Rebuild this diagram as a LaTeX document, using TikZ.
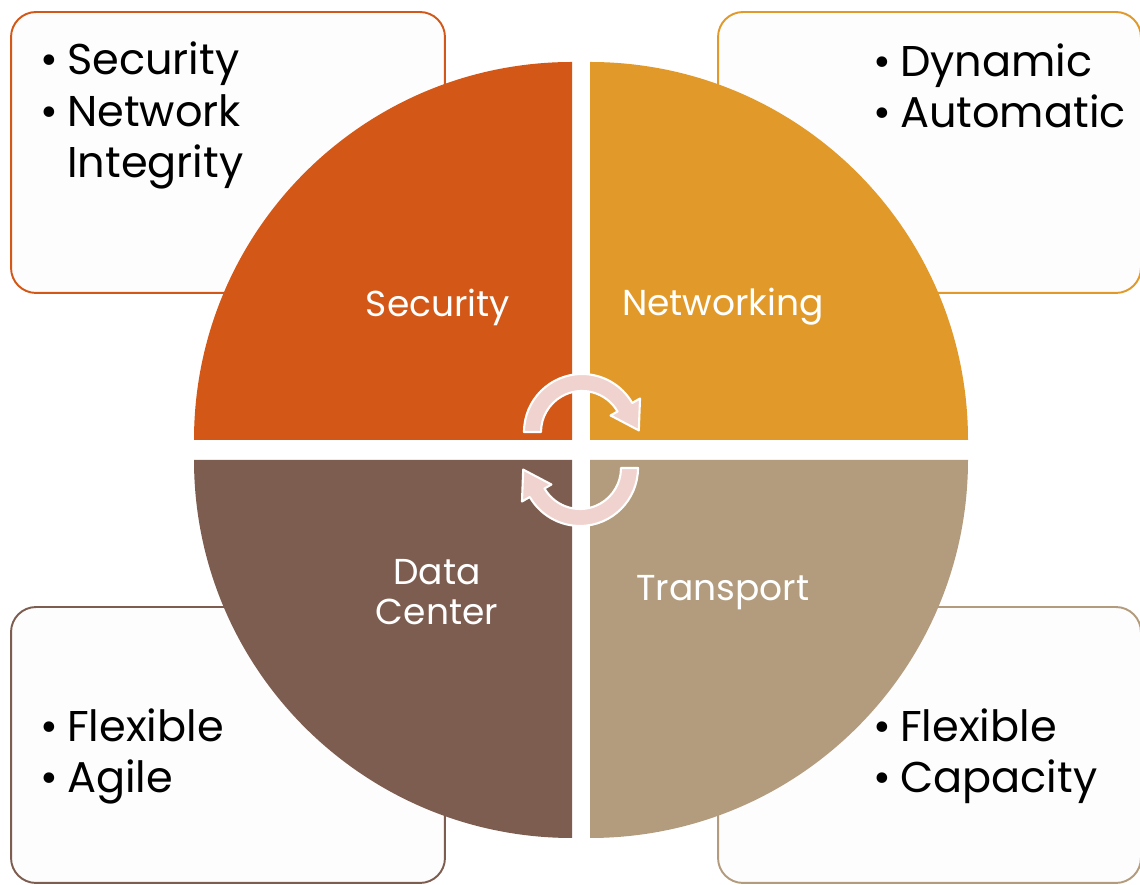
\documentclass[tikz,border=0pt]{standalone}
\usepackage{fontspec}
\setmainfont{Poppins}
\usetikzlibrary{calc,positioning,backgrounds}
\definecolor{secOrange}{HTML}{D35716}
\definecolor{netGold}{HTML}{E19A29}
\definecolor{dcBrown}{HTML}{7D5D50}
\definecolor{trTan}{HTML}{B29C7D}
\definecolor{cycPink}{HTML}{F0D3CE}
\definecolor{boxFill}{HTML}{FDFDFD}
\begin{document}
\begin{tikzpicture}[x=0.02cm,y=0.02cm,every path/.style={line join=round}]
  \tikzstyle{note} = [draw,fill=boxFill,line width=1.1pt,rounded corners=0.5cm,minimum height=5.62cm];
  \tikzstyle{bul} = [anchor=base west,align=left,inner sep=0pt,font=\fontsize{24.5}{29.5}\selectfont];
  \tikzstyle{qlabel} = [text=white,align=center,inner sep=0pt,font=\fontsize{20.5}{22.7}\selectfont];
  \tikzstyle{cycarrow} = [fill=cycPink,draw=white,line width=1.2pt];
  \tikzset{cycle arrow/.pic={
    \filldraw[cycarrow] (180:58) arc[start angle=180,end angle=30,radius=58] -- (30:67)
      -- ($(30:50)+(-60:27)$) -- (30:33) -- (30:41) arc[start angle=30,end angle=180,radius=41] -- cycle;
  }};
  \newcommand{\itm}[1]{\makebox[15.3pt][l]{\textbullet}#1}
  \useasboundingbox[fill=white] (0,0) rectangle (1140,885);
  % side boxes
  \node[note,draw=secOrange,minimum width=8.68cm] (secbox) at (228,732.5) {};
  \node[note,draw=netGold,minimum width=8.46cm] (netbox) at (929.5,732.5) {};
  \node[note,draw=dcBrown,minimum width=8.68cm,minimum height=5.52cm] (dcbox) at (228,140) {};
  \node[note,draw=trTan,minimum width=8.46cm,minimum height=5.52cm] (trbox) at (929.5,140) {};
  % quadrants
  \fill[secOrange] (572,445) -- (194,445) arc[start angle=180,end angle=90,radius=378] -- cycle;
  \fill[netGold] (590,445) -- (590,823) arc[start angle=90,end angle=0,radius=378] -- cycle;
  \fill[dcBrown] (572,425) -- (572,47) arc[start angle=270,end angle=180,radius=378] -- cycle;
  \fill[trTan] (590,425) -- (968,425) arc[start angle=0,end angle=-90,radius=378] -- cycle;
  \node[qlabel] (seclbl) at (438,578) {Security};
  \node[qlabel] (netlbl) at (723,578) {Networking};
  \node[qlabel] (dclbl) at (437,293) {Data\\Center};
  \node[qlabel] (trlbl) at (723,292) {Transport};
  % cycle arrows
  \pic at (582,453) {cycle arrow};
  \pic[rotate=180] at (580,417) {cycle arrow};
  % bullet lists (anchored at the last line)
  \node[bul] (sectxt) at (40,707) {\itm{Security}\\\itm{Network}\\\hspace*{15.3pt}Integrity};
  \node[bul] (nettxt) at (873,757) {\itm{Dynamic}\\\itm{Automatic}};
  \node[bul] (dctxt) at (40,92) {\itm{Flexible}\\\itm{Agile}};
  \node[bul] (trtxt) at (873,92) {\itm{Flexible}\\\itm{Capacity}};
\end{tikzpicture}
\end{document}
